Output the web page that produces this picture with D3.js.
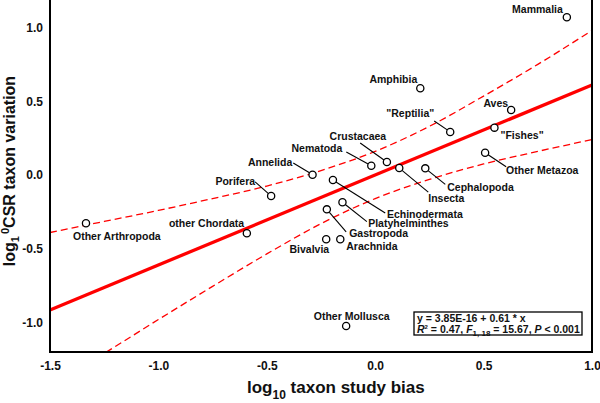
<!DOCTYPE html>
<html>
<head>
<meta charset="utf-8">
<script src="https://cdn.jsdelivr.net/npm/d3@7"></script>
<style>
  html, body { margin: 0; padding: 0; background: #fff; }
  svg { display: block; font-family: "Liberation Sans", Arial, sans-serif; }
</style>
</head>
<body>
<svg id="chart" width="600" height="403"></svg>
<script>
// ---- Data ----
const taxa = ["Mammalia", "Amphibia", "Aves", "\"Reptilia\"", "\"Fishes\"", "Other Metazoa",
  "Cephalopoda", "Insecta", "Crustacaea", "Nematoda", "Annelida", "Porifera",
  "Echinodermata", "Platyhelminthes", "Gastropoda", "Bivalvia", "Arachnida",
  "other Chordata", "Other Mollusca", "Other Arthropoda"];
const studyBias = [0.884, 0.208, 0.627, 0.346, 0.550, 0.507,
  0.231, 0.111, 0.054, -0.018, -0.289, -0.480,
  -0.195, -0.151, -0.223, -0.226, -0.161,
  -0.592, -0.134, -1.334];
const csrVariation = [1.069, 0.588, 0.441, 0.292, 0.321, 0.151,
  0.045, 0.047, 0.088, 0.063, 0.002, -0.142,
  -0.034, -0.185, -0.233, -0.436, -0.436,
  -0.395, -1.024, -0.327];

const xTicks = [-1.5, -1.0, -0.5, 0.0, 0.5, 1.0];
const yTicks = [-1.0, -0.5, 0.0, 0.5, 1.0];

// regression line (from the printed equation)
const fitIntercept = 3.85e-16;
const fitSlope = 0.61;
const fitX = [-1.5, 1.0];

// 95% confidence band
const bandX = [-1.5, -1.25, -1.0, -0.75, -0.5, -0.25, 0, 0.25, 0.5, 0.75, 1.0];
const bandUpper = [-0.39, -0.315, -0.24, -0.16, -0.075, 0.03, 0.16, 0.33, 0.535, 0.75, 0.98];
const bandLower = [-1.44, -1.21, -0.98, -0.755, -0.535, -0.33, -0.16, -0.03, 0.075, 0.16, 0.24];

// ---- Layout (label offsets in px relative to each point) ----
const labelLayout = {
  "Mammalia":        { dx: -4,   dy: -4,   anchor: "end" },
  "Amphibia":        { dx: -3,   dy: -5,   anchor: "end" },
  "Aves":            { dx: -3,   dy: -3,   anchor: "end" },
  "\"Reptilia\"":    { dx: -16,  dy: -14.5, anchor: "end", leader: [-16, -11] },
  "\"Fishes\"":      { dx: 6,    dy: 11.5, anchor: "start" },
  "Other Metazoa":   { dx: 21,   dy: 21,   anchor: "start", leader: [21, 14] },
  "Cephalopoda":     { dx: 22,   dy: 22.5, anchor: "start", leader: [20, 16] },
  "Insecta":         { dx: 29,   dy: 34,   anchor: "start", leader: [29, 24] },
  "Crustacaea":      { dx: -0.7, dy: -22,  anchor: "end", leader: [-26.7, -19] },
  "Nematoda":        { dx: -29,  dy: -13.7, anchor: "end", leader: [-25, -13.7] },
  "Annelida":        { dx: -20.3, dy: -8.7, anchor: "end", leader: [-19.3, -11.7] },
  "Porifera":        { dx: -16,  dy: -11,  anchor: "end", leader: [-16, -14] },
  "Echinodermata":   { dx: 54,   dy: 38,   anchor: "start", leader: [52.3, 33] },
  "Platyhelminthes": { dx: 25.7, dy: 25,   anchor: "start", leader: [24.4, 19.4] },
  "Gastropoda":      { dx: 22.3, dy: 27.7, anchor: "start", leader: [19.3, 22.4] },
  "Bivalvia":        { dx: 3,    dy: 14,   anchor: "end" },
  "Arachnida":       { dx: 6,    dy: 10.7, anchor: "start" },
  "other Chordata":  { dx: -2.7, dy: -6,   anchor: "end" },
  "Other Mollusca":  { dx: 5.5,  dy: -6,   anchor: "middle" },
  "Other Arthropoda":{ dx: -13,  dy: 16.5, anchor: "start" }
};

const svg = d3.select("#chart");
const plot = { left: 50, right: 592, top: -2, bottom: 352 };

const x = d3.scaleLinear().domain([-1.5, 1.0]).range([plot.left, plot.right]);
const y = d3.scaleLinear().domain([-1.2, 1.2]).range([plot.bottom, plot.top]);

svg.append("defs").append("clipPath").attr("id", "clip")
  .append("rect").attr("x", plot.left).attr("y", plot.top - 5)
  .attr("width", plot.right - plot.left).attr("height", plot.bottom - plot.top + 5);

const g = svg.append("g").attr("clip-path", "url(#clip)");

// confidence bands
const bandLine = d3.line().curve(d3.curveMonotoneX).x(d => x(d[0])).y(d => y(d[1]));
[bandUpper, bandLower].forEach(arr => {
  g.append("path")
    .attr("d", bandLine(bandX.map((v, i) => [v, arr[i]])))
    .attr("fill", "none").attr("stroke", "#ff0000")
    .attr("stroke-width", 1.3).attr("stroke-dasharray", "7,4");
});

// regression line
g.append("path")
  .attr("d", d3.line().x(d => x(d)).y(d => y(fitIntercept + fitSlope * d))(fitX))
  .attr("fill", "none").attr("stroke", "#ff0000").attr("stroke-width", 3.3);

// leaders, points, labels
const r = 3.6;
const pts = taxa.map((name, i) => ({ name, px: x(studyBias[i]), py: y(csrVariation[i]) }));

pts.forEach(p => {
  const L = labelLayout[p.name];
  if (L.leader) {
    const [lx, ly] = L.leader;
    const len = Math.hypot(lx, ly);
    svg.append("line")
      .attr("x1", p.px + lx / len * r).attr("y1", p.py + ly / len * r)
      .attr("x2", p.px + lx).attr("y2", p.py + ly)
      .attr("stroke", "#000").attr("stroke-width", 1.1);
  }
});

svg.selectAll("circle.pt").data(pts).join("circle")
  .attr("class", "pt")
  .attr("cx", d => d.px).attr("cy", d => d.py).attr("r", r)
  .attr("fill", "#fff").attr("stroke", "#000").attr("stroke-width", 1.3);

svg.selectAll("text.lbl").data(pts).join("text")
  .attr("class", "lbl")
  .attr("x", d => d.px + labelLayout[d.name].dx)
  .attr("y", d => d.py + labelLayout[d.name].dy)
  .attr("text-anchor", d => labelLayout[d.name].anchor)
  .attr("font-size", 10.5).attr("font-weight", "bold").attr("fill", "#111")
  .text(d => d.name);

// frame
svg.append("rect")
  .attr("x", plot.left).attr("y", -6)
  .attr("width", plot.right - plot.left).attr("height", plot.bottom + 6)
  .attr("fill", "none").attr("stroke", "#000").attr("stroke-width", 2);

// x axis
const xAxis = d3.axisBottom(x).tickValues(xTicks).tickFormat(d3.format(".1f")).tickSize(0).tickPadding(9);
const xa = svg.append("g").attr("transform", `translate(0,${plot.bottom})`).call(xAxis);
xa.select(".domain").remove();
xa.selectAll("text").attr("font-size", 12).attr("font-weight", "bold").attr("fill", "#111")
  .attr("font-family", "Liberation Sans, Arial, sans-serif")
  .text(d => d3.format(".1f")(d).replace("−", "-"));

// y axis
const yAxis = d3.axisLeft(y).tickValues(yTicks).tickFormat(d3.format(".1f")).tickSize(0).tickPadding(7);
const ya = svg.append("g").attr("transform", `translate(${plot.left},0)`).call(yAxis);
ya.select(".domain").remove();
ya.selectAll("text").attr("font-size", 12).attr("font-weight", "bold").attr("fill", "#111")
  .attr("font-family", "Liberation Sans, Arial, sans-serif")
  .text(d => d3.format(".1f")(d).replace("−", "-"));

// x title
const xt = svg.append("text").attr("x", 247).attr("y", 393)
  .attr("font-size", 17).attr("font-weight", "bold").attr("fill", "#111");
xt.append("tspan").text("log");
xt.append("tspan").attr("font-size", 12).attr("dy", 6).text("10");
xt.append("tspan").attr("dy", -6).text(" taxon study bias");

// y title
const yt = svg.append("text")
  .attr("transform", "translate(15,171) rotate(-90)")
  .attr("text-anchor", "middle")
  .attr("font-size", 16).attr("font-weight", "bold").attr("fill", "#111");
yt.append("tspan").text("log");
yt.append("tspan").attr("font-size", 11).attr("dy", 4).text("1");
yt.append("tspan").attr("font-size", 11).attr("dx", 2).attr("dy", -10).text("0");
yt.append("tspan").attr("dy", 6).text("CSR taxon variation");

// equation box
svg.append("rect").attr("x", 414).attr("y", 312).attr("width", 168).attr("height", 23)
  .attr("fill", "#fff").attr("stroke", "#000").attr("stroke-width", 1.3);
svg.append("text").attr("x", 417).attr("y", 322)
  .attr("font-size", 10.5).attr("font-weight", "bold").attr("fill", "#111")
  .text("y = 3.85E-16 + 0.61 * x");
const eq2 = svg.append("text").attr("x", 417).attr("y", 332.5)
  .attr("font-size", 10.5).attr("font-weight", "bold").attr("fill", "#111");
eq2.append("tspan").attr("font-style", "italic").text("R");
eq2.append("tspan").attr("font-size", 6).attr("dy", -4).text("2");
eq2.append("tspan").attr("dy", 4).text(" = 0.47, ");
eq2.append("tspan").attr("font-style", "italic").text("F");
eq2.append("tspan").attr("font-size", 8).attr("dy", 3).text("1, 18");
eq2.append("tspan").attr("dy", -3).text(" = 15.67, ");
eq2.append("tspan").attr("font-style", "italic").text("P");
eq2.append("tspan").text(" < 0.001");
</script>
</body>
</html>
